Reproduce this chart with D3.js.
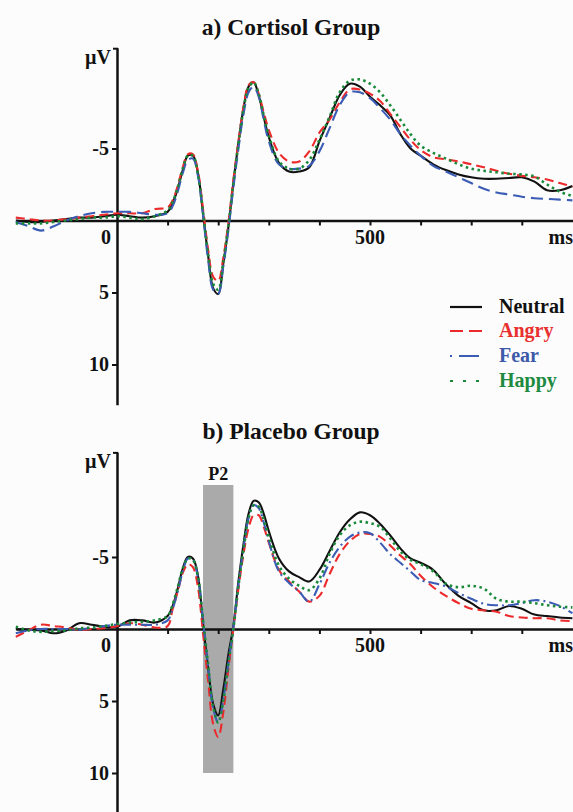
<!DOCTYPE html>
<html><head><meta charset="utf-8">
<script src="https://cdn.jsdelivr.net/npm/d3@7/dist/d3.min.js"></script>
<style>
html,body{margin:0;padding:0;background:#fcfcfc;}
svg{display:block;}
text{font-family:"Liberation Serif","Times New Roman",serif;font-weight:bold;}
</style></head>
<body>
<svg id="chart" width="573" height="812"></svg>
<script>
// ---------------- DATA ----------------
const times = [-200,-175,-150,-125,-100,-75,-50,-25,0,25,50,75,
  100,110,120,130,140,150,160,170,180,190,200,210,220,230,240,250,260,270,280,290,300,
  320,340,360,380,400,420,440,460,480,500,520,540,560,580,600,
  625,650,675,700,725,750,775,800,825,850,875,900];

const conditions = ["Neutral","Angry","Fear","Happy"];
const panelTitles = ["a) Cortisol Group","b) Placebo Group"];

// a) Cortisol group (µV)
const cortisolNeutral = [0.0,0.1,0.1,0.0,-0.1,-0.2,-0.2,-0.3,-0.4,-0.3,-0.2,-0.3,
  -0.6,-1.2,-2.2,-3.5,-4.5,-4.5,-3.3,-0.5,2.4,4.7,5.1,3.0,0.5,-2.6,-5.4,-7.8,-9.3,-9.6,-8.7,-7.2,-5.8,
  -4.0,-3.4,-3.4,-3.7,-5.5,-7.1,-8.7,-9.5,-9.3,-8.6,-8.0,-7.3,-6.0,-5.0,-4.5,
  -3.9,-3.5,-3.2,-3.0,-2.9,-2.9,-2.95,-3.0,-2.7,-2.1,-2.1,-2.4];
const cortisolAngry = [-0.2,-0.1,0.0,0.0,-0.1,-0.2,-0.3,-0.4,-0.5,-0.5,-0.5,-0.8,
  -0.9,-1.4,-2.4,-3.7,-4.6,-4.6,-3.4,-0.8,2.0,3.9,4.2,2.6,0.2,-2.8,-5.5,-7.9,-9.4,-9.6,-8.8,-7.5,-6.3,
  -4.7,-4.1,-4.1,-4.8,-6.1,-7.0,-8.2,-9.1,-9.1,-8.8,-8.3,-7.4,-6.5,-5.6,-4.9,
  -4.4,-4.25,-4.1,-3.9,-3.7,-3.45,-3.25,-3.1,-3.0,-2.85,-2.6,-2.35];
const cortisolFear = [0.1,0.4,0.7,0.4,0.0,-0.3,-0.5,-0.6,-0.6,-0.6,-0.5,-0.4,
  -0.5,-1.0,-2.0,-3.3,-4.2,-4.3,-3.1,-0.4,2.7,4.8,5.1,3.2,0.7,-2.3,-5.0,-7.4,-8.9,-9.3,-8.6,-7.0,-5.5,
  -3.9,-3.6,-3.6,-3.8,-4.8,-6.4,-8.0,-8.9,-8.9,-8.5,-7.8,-7.0,-6.0,-5.2,-4.5,
  -3.8,-3.4,-3.0,-2.6,-2.2,-1.95,-1.8,-1.65,-1.55,-1.5,-1.45,-1.4];
const cortisolHappy = [0.2,0.2,0.2,0.1,0.0,-0.1,-0.2,-0.2,-0.3,-0.2,-0.1,-0.3,
  -0.7,-1.3,-2.3,-3.6,-4.5,-4.5,-3.2,-0.6,2.3,4.4,4.8,2.9,0.4,-2.6,-5.3,-7.7,-9.2,-9.6,-8.8,-7.3,-5.9,
  -4.1,-3.6,-3.6,-4.2,-5.6,-7.2,-8.9,-9.7,-9.8,-9.5,-8.9,-8.0,-7.0,-6.0,-5.2,
  -4.7,-4.3,-3.9,-3.6,-3.45,-3.35,-3.25,-3.2,-3.05,-2.5,-2.0,-1.7];

// b) Placebo group (µV)
const placeboNeutral = [0.0,0.05,0.1,0.3,0.1,-0.4,-0.3,-0.15,-0.15,-0.6,-0.6,-0.45,
  -0.9,-1.6,-2.8,-4.2,-5.0,-4.9,-3.7,-0.4,2.7,5.2,6.0,4.2,1.8,-0.2,-3.3,-5.9,-8.0,-8.9,-8.8,-8.0,-6.8,
  -4.9,-4.0,-3.6,-3.3,-4.1,-5.4,-6.7,-7.6,-8.1,-7.9,-7.3,-6.5,-5.6,-4.9,-4.6,
  -4.1,-3.1,-2.3,-1.8,-1.3,-1.3,-1.6,-1.4,-1.0,-0.9,-0.8,-0.75];
const placeboAngry = [0.55,0.1,-0.3,-0.2,-0.1,0.05,0.0,-0.05,-0.2,-0.4,-0.3,-0.1,
  -0.2,-1.4,-2.6,-3.9,-4.5,-4.3,-2.9,0.3,3.6,6.6,7.5,5.8,2.8,0.0,-2.8,-5.2,-7.0,-7.9,-7.9,-7.1,-6.0,
  -4.1,-3.3,-2.6,-1.9,-2.3,-3.8,-5.2,-6.1,-6.6,-6.6,-6.4,-5.8,-5.1,-4.5,-3.7,
  -2.9,-2.3,-1.8,-1.4,-1.3,-1.2,-0.9,-0.8,-0.75,-0.75,-0.6,-0.55];
const placeboFear = [0.3,0.1,0.0,0.0,0.0,0.05,-0.1,-0.2,-0.3,-0.3,-0.3,-0.3,
  -0.6,-1.4,-2.6,-4.0,-4.9,-4.8,-3.6,-0.6,2.6,5.5,6.5,4.9,2.4,-0.1,-3.1,-5.6,-7.7,-8.6,-8.4,-7.4,-6.1,
  -4.0,-3.2,-2.6,-1.9,-3.1,-4.6,-5.7,-6.4,-6.7,-6.65,-6.0,-5.2,-4.6,-4.0,-3.4,
  -3.2,-2.95,-2.5,-2.1,-1.75,-1.65,-1.65,-1.8,-2.0,-1.9,-1.6,-1.1];
const placeboHappy = [-0.15,0.1,0.2,0.15,0.1,-0.05,-0.1,-0.2,-0.35,-0.45,-0.5,-0.6,
  -0.9,-1.7,-2.9,-4.2,-4.9,-4.8,-3.6,-0.6,2.4,5.4,6.5,5.0,2.4,0.0,-3.0,-5.5,-7.7,-8.6,-8.5,-7.6,-6.4,
  -4.4,-3.5,-3.0,-2.7,-3.5,-5.2,-6.5,-7.2,-7.45,-7.35,-7.1,-6.3,-5.4,-4.8,-4.5,
  -4.0,-3.15,-2.9,-3.0,-2.8,-2.1,-1.9,-1.9,-1.8,-1.65,-1.55,-1.5];

const yTickValues = [-5, 5, 10];
const xTickValues = [100,200,300,400,500,600,700,800];
const xTickLabels = [{t:0,label:"0"},{t:500,label:"500"}];
const p2Window = [170, 230];
const p2Range = [-10, 10];

// ---------------- STYLE ----------------
const colors = {Neutral:"#111111", Angry:"#ec2a2c", Fear:"#3b5cb5", Happy:"#1a8a3a"};
const textColors = {Neutral:"#111111", Angry:"#e8312f", Fear:"#3d5aa8", Happy:"#208a40"};

const svg = d3.select("#chart");
const x = d3.scaleLinear().domain([0, 500]).range([117, 370]);
const xMin = -200, xMax = 906;

const panels = [
  {title: panelTitles[0], titleY: 35, y0: 220.5, axisTop: -12.0, axisBottom: 12.8,
   series: [cortisolNeutral, cortisolAngry, cortisolFear, cortisolHappy],
   dash: {Neutral:null, Angry:"9,5", Fear:"12,6", Happy:"2.5,3.5"}, legend: true, p2: false},
  {title: panelTitles[1], titleY: 439, y0: 629, axisTop: -12.3, axisBottom: 13.5,
   series: [placeboNeutral, placeboAngry, placeboFear, placeboHappy],
   dash: {Neutral:null, Angry:"9,5", Fear:"11,4,2,4", Happy:"2.5,3.5"}, legend: false, p2: true}
];

panels.forEach(p => {
  const y = d3.scaleLinear().domain([0, 10]).range([p.y0, p.y0 + 144]);
  const g = svg.append("g");

  // title
  g.append("text").attr("x", 291).attr("y", p.titleY).attr("text-anchor","middle")
    .attr("font-size", 23.5).attr("fill","#111").text(p.title);

  // P2 window
  if (p.p2) {
    g.append("rect").attr("x", x(p2Window[0])).attr("width", x(p2Window[1]) - x(p2Window[0]))
      .attr("y", y(p2Range[0])).attr("height", y(p2Range[1]) - y(p2Range[0]))
      .attr("fill", "#aaaaaa");
    g.append("text").attr("x", (x(p2Window[0]) + x(p2Window[1])) / 2).attr("y", y(p2Range[0]) - 5)
      .attr("text-anchor","middle").attr("font-size", 18).attr("fill","#111").text("P2");
  }

  // x axis
  const xAxisScale = x.copy().domain([xMin, xMax]).range([x(xMin), x(xMax)]);
  const xAxis = g.append("g").attr("transform", `translate(0,${y(0)})`)
    .call(d3.axisBottom(xAxisScale).tickValues(xTickValues).tickSize(5).tickSizeOuter(0).tickFormat(""));
  xAxis.select(".domain").attr("stroke","#111").attr("stroke-width",2.5);
  xAxis.selectAll(".tick line").attr("stroke","#111").attr("stroke-width",2);

  // y axis
  const yAxisScale = y.copy().domain([p.axisTop, p.axisBottom]).range([y(p.axisTop), y(p.axisBottom)]);
  const yAxis = g.append("g").attr("transform", `translate(${x(0)},0)`)
    .call(d3.axisLeft(yAxisScale).tickValues(yTickValues).tickSize(5).tickSizeOuter(0).tickPadding(3)
      .tickFormat(d => String(d)));
  yAxis.select(".domain").attr("stroke","#111").attr("stroke-width",2.5);
  yAxis.selectAll(".tick line").attr("stroke","#111").attr("stroke-width",2);
  yAxis.selectAll(".tick text").attr("font-size",20).attr("fill","#111")
    .attr("font-family",'"Liberation Serif",serif').attr("font-weight","bold");
  // top cap
  g.append("line").attr("x1", x(0) - 4).attr("x2", x(0) + 1)
    .attr("y1", y(p.axisTop) + 1).attr("y2", y(p.axisTop) + 1).attr("stroke","#111").attr("stroke-width",2);
  g.append("text").attr("x", x(0) - 6).attr("y", y(p.axisTop) + 16).attr("text-anchor","end")
    .attr("font-size", 20).attr("fill","#111").text("µV");

  // x labels
  xTickLabels.forEach(d => {
    g.append("text").attr("x", d.t === 0 ? x(0) - 11 : x(d.t)).attr("y", y(0) + 23)
      .attr("text-anchor","middle").attr("font-size", 20).attr("fill","#111").text(d.label);
  });
  g.append("text").attr("x", 573).attr("y", y(0) + 23).attr("text-anchor","end")
    .attr("font-size", 20).attr("fill","#111").text("ms");

  // waveforms
  const line = d3.line().x(d => x(d[0])).y(d => y(d[1])).curve(d3.curveCatmullRom.alpha(0.5));
  conditions.forEach((c, i) => {
    const pts = times.map((t, k) => [t, p.series[i][k]]);
    g.append("path").datum(pts).attr("d", line).attr("fill","none")
      .attr("stroke", colors[c]).attr("stroke-width", c === "Happy" ? 2.6 : 2.1)
      .attr("stroke-dasharray", p.dash[c]);
  });

  // legend
  if (p.legend) {
    const lDash = {Neutral:null, Angry:"13,6", Fear:"2,7,20,10", Happy:"3,10"};
    const rowsY = [307, 331, 356, 381];
    conditions.forEach((c, i) => {
      g.append("line").attr("x1", 450).attr("x2", 482).attr("y1", rowsY[i]).attr("y2", rowsY[i])
        .attr("stroke", colors[c]).attr("stroke-width", 2.2).attr("stroke-dasharray", lDash[c]);
      g.append("text").attr("x", 499).attr("y", rowsY[i] + 6).attr("font-size", 20)
        .attr("fill", textColors[c]).text(c);
    });
  }
});
</script>
</body></html>
